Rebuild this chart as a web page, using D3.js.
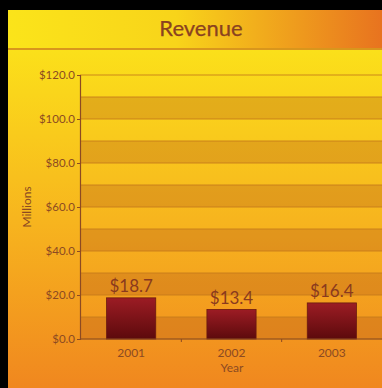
<!DOCTYPE html>
<html><head><meta charset="utf-8">
<script src="https://cdn.jsdelivr.net/npm/d3@7"></script>
<style>html,body{margin:0;padding:0;background:#000;}svg{display:block;}</style>
</head><body>
<script>
const categories = ["2001", "2002", "2003"];
const values = [18.7, 13.4, 16.4];
const valueLabels = ["$18.7", "$13.4", "$16.4"];
const yTicks = [0, 20, 40, 60, 80, 100, 120];
const bandStops = [0, 10, 20, 30, 40, 50, 60, 70, 80, 90, 100, 110];
const title = "Revenue";
const xTitle = "Year";
const yTitle = "Millions";

(function () {
const W = 382, H = 388;
const FF = "Lato, 'DejaVu Sans', sans-serif";
const svg = d3.select("body").append("svg").attr("width", W).attr("height", H);
const defs = svg.append("defs");

const tg = defs.append("linearGradient").attr("id", "tg").attr("x1", 0).attr("x2", 1).attr("y1", 0).attr("y2", 0);
tg.append("stop").attr("offset", "0").attr("stop-color", "#fbe41a");
tg.append("stop").attr("offset", "0.45").attr("stop-color", "#f8d41a");
tg.append("stop").attr("offset", "1").attr("stop-color", "#e8731f");

const pg = defs.append("linearGradient").attr("id", "pg").attr("x1", 0).attr("x2", 0).attr("y1", 0).attr("y2", 1);
pg.append("stop").attr("offset", "0").attr("stop-color", "#fbe01a");
pg.append("stop").attr("offset", "0.5").attr("stop-color", "#f7b51e");
pg.append("stop").attr("offset", "1").attr("stop-color", "#f0871f");

const bg = defs.append("linearGradient").attr("id", "bg").attr("x1", 0).attr("x2", 0).attr("y1", 0).attr("y2", 1);
bg.append("stop").attr("offset", "0").attr("stop-color", "#9c1c24");
bg.append("stop").attr("offset", "1").attr("stop-color", "#5c0a0c");

svg.append("rect").attr("x", 8).attr("y", 10).attr("width", W - 8).attr("height", 39).attr("fill", "url(#tg)");
svg.append("rect").attr("x", 8).attr("y", 50).attr("width", W - 8).attr("height", H - 50).attr("fill", "url(#pg)");
svg.append("rect").attr("x", 8).attr("y", 48).attr("width", W - 8).attr("height", 2).attr("fill", "#d9961c");

svg.append("text").attr("x", 201).attr("y", 36).attr("text-anchor", "middle")
  .attr("font-family", FF).attr("font-size", 22)
  .attr("fill", "#8a4220").attr("stroke", "#8a4220").attr("stroke-width", 0.25).text(title);

const pl = 80, pr = 382, pt = 75, pb = 339;
const x = d3.scaleBand().domain(categories).range([pl + 1, pl + 1 + 301]).paddingInner(0.51).paddingOuter(0.255);
const y = d3.scaleLinear().domain([0, 120]).range([pb, pt]);

const g = svg.append("g");
g.selectAll("rect.band").data(bandStops).enter().append("rect")
  .attr("x", pl).attr("width", pr - pl)
  .attr("y", d => y(d + 10)).attr("height", d => y(d) - y(d + 10))
  .attr("fill", (d, i) => i % 2 === 0 ? "#b0561a" : "none")
  .attr("fill-opacity", 0.3);
g.selectAll("line.grid").data(bandStops.concat([120])).enter().append("line")
  .attr("x1", pl).attr("x2", pr).attr("y1", d => y(d)).attr("y2", d => y(d))
  .attr("stroke", "#c47a1a").attr("stroke-opacity", 0.85).attr("stroke-width", 1.2);

g.selectAll("rect.bar").data(values).enter().append("rect")
  .attr("x", (d, i) => x(categories[i])).attr("width", x.bandwidth())
  .attr("y", d => y(d)).attr("height", d => y(0) - y(d))
  .attr("fill", "url(#bg)").attr("stroke", "#6a1a10").attr("stroke-width", 0.8);

g.selectAll("text.vl").data(values).enter().append("text")
  .attr("x", (d, i) => x(categories[i]) + x.bandwidth() / 2)
  .attr("y", d => y(d) - 6).attr("text-anchor", "middle")
  .attr("font-family", FF).attr("font-size", 17)
  .attr("fill", "#8a3a1e").text((d, i) => valueLabels[i]);

const axisColor = "#8c4a22";
const ya = svg.append("g").attr("transform", `translate(${pl},0)`)
  .call(d3.axisLeft(y).tickValues(yTicks).tickSize(3).tickPadding(2).tickFormat(d => "$" + d3.format(".1f")(d)));
ya.select(".domain").attr("stroke", axisColor).attr("stroke-width", 1.2);
ya.selectAll(".tick line").attr("stroke", axisColor);
ya.selectAll("text").attr("fill", axisColor).attr("font-size", 11.5)
  .attr("font-family", FF);

const xa = svg.append("g").attr("transform", `translate(0,${pb})`)
  .call(d3.axisBottom(x).tickSize(0).tickPadding(9));
xa.select(".domain").remove();
svg.append("line").attr("x1", pl).attr("x2", pr).attr("y1", pb).attr("y2", pb)
  .attr("stroke", axisColor).attr("stroke-width", 1.2);
const sep = [categories[1], categories[2]];
svg.selectAll("line.sep").data(sep).enter().append("line")
  .attr("x1", d => x(d) - x.step() * x.paddingInner() / 2).attr("x2", d => x(d) - x.step() * x.paddingInner() / 2)
  .attr("y1", pb).attr("y2", pb + 3).attr("stroke", axisColor);
xa.selectAll("text").attr("fill", axisColor).attr("font-size", 12)
  .attr("font-family", FF);

svg.append("text").attr("x", 232).attr("y", 372).attr("text-anchor", "middle")
  .attr("font-family", FF).attr("font-size", 12)
  .attr("fill", axisColor).text(xTitle);
svg.append("text").attr("transform", "translate(31,207) rotate(-90)").attr("text-anchor", "middle")
  .attr("font-family", FF).attr("font-size", 12)
  .attr("fill", axisColor).text(yTitle);
})();
</script>
</body></html>
